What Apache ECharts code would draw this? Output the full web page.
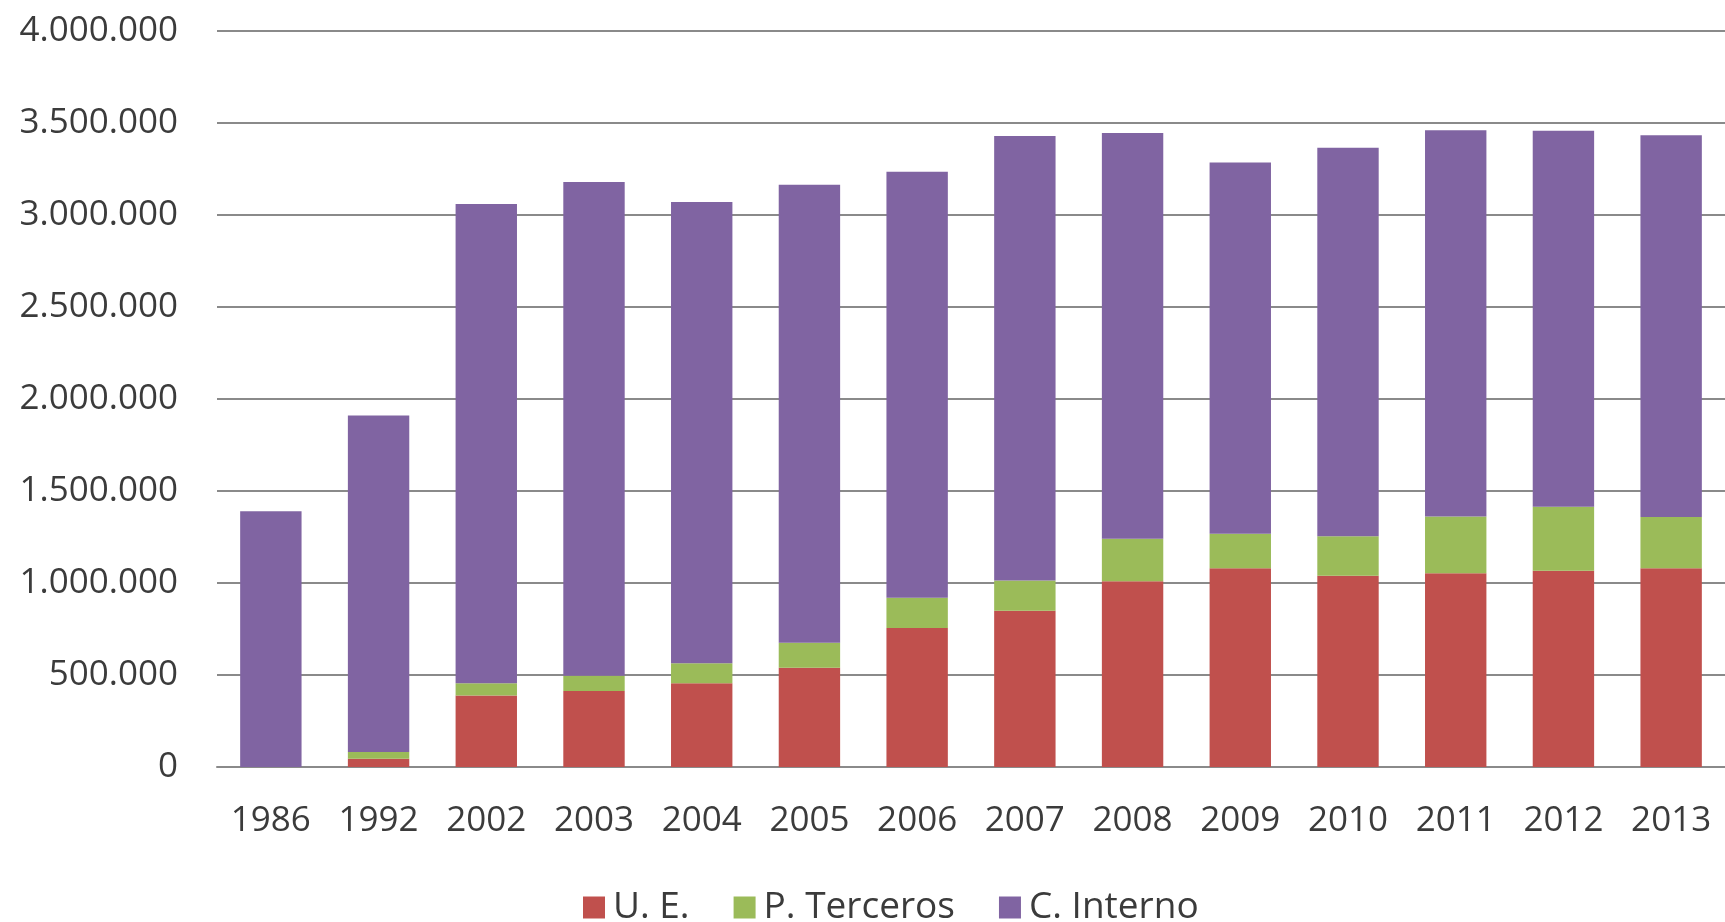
<!DOCTYPE html>
<html>
<head>
<meta charset="utf-8">
<script src="https://cdn.jsdelivr.net/npm/echarts@6/dist/echarts.min.js"></script>
<style>
html,body{margin:0;padding:0;background:#fff;}
#chart{width:1725px;height:922px;}
</style>
</head>
<body>
<div id="chart"></div>
<script>
const years = ['1986','1992','2002','2003','2004','2005','2006','2007','2008','2009','2010','2011','2012','2013'];
const seriesNames = ['U. E.', 'P. Terceros', 'C. Interno'];
const ue        = [0, 45000, 388000, 413000, 455000, 540000, 755000, 849000, 1010000, 1080000, 1040000, 1053000, 1066000, 1080000];
const terceros  = [0, 37000, 67000, 83000, 109000, 135000, 165000, 164000, 231000, 188000, 214000, 308000, 348000, 279000];
const interno   = [1390000, 1828000, 2605000, 2684000, 2506000, 2490000, 2315000, 2417000, 2204000, 2017000, 2111000, 2099000, 2044000, 2074000];
const yTicks = [0, 500000, 1000000, 1500000, 2000000, 2500000, 3000000, 3500000, 4000000];

const colors = ['#C0504D', '#9BBB59', '#8064A2'];
const FONT = '"Open Sans", "Noto Sans", sans-serif';
const TXT = '#3b3b3b';

function fmt(v){
  return String(v).replace(/\B(?=(\d{3})+(?!\d))/g, '.');
}

const chart = echarts.init(document.getElementById('chart'), null, {renderer:'canvas'});
const data = [ue, terceros, interno];
chart.setOption({
  animation: false,
  color: colors,
  textStyle: {fontFamily: FONT},
  grid: {left: 217, right: 0, top: 31, bottom: 155, containLabel: false},
  legend: {
    data: seriesNames,
    left: 578,
    top: 884,
    itemWidth: 22,
    itemHeight: 22,
    itemGap: 44,
    icon: 'rect',
    textStyle: {fontFamily: FONT, fontSize: 37, color: TXT, padding: [0,0,0,3]}
  },
  xAxis: {
    type: 'category',
    data: years,
    axisLine: {show: true, lineStyle: {color: '#8a8a8a', width: 2}},
    axisTick: {show: false},
    axisLabel: {fontFamily: FONT, fontSize: 35, color: TXT, margin: 37}
  },
  yAxis: {
    type: 'value',
    min: yTicks[0],
    max: yTicks[yTicks.length-1],
    interval: yTicks[1] - yTicks[0],
    axisLine: {show: false},
    axisTick: {show: false},
    axisLabel: {fontFamily: FONT, fontSize: 35, color: TXT, margin: 39, formatter: fmt},
    splitLine: {lineStyle: {color: '#8a8a8a', width: 2}}
  },
  series: seriesNames.map((n, i) => ({
    name: n,
    type: 'bar',
    stack: 'total',
    barCategoryGap: '43%',
    data: data[i],
    itemStyle: {color: colors[i]}
  }))
});
</script>
</body>
</html>
